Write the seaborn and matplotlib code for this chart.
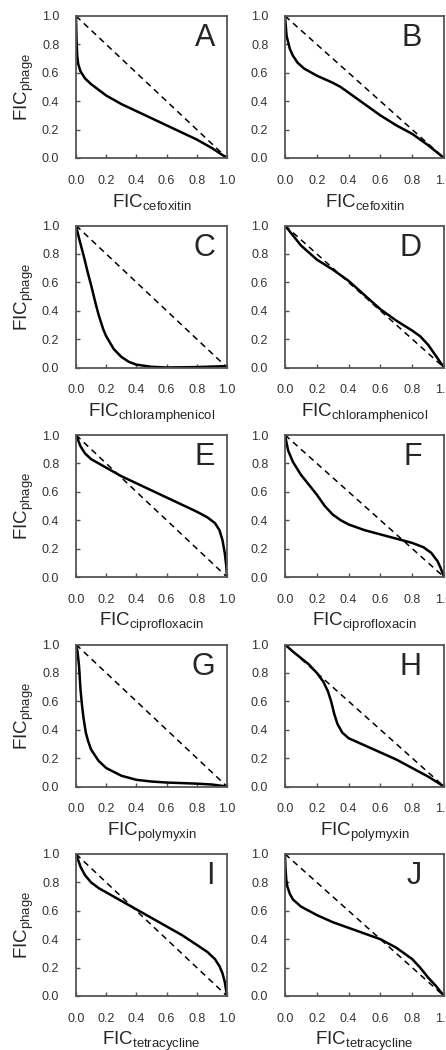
import numpy as np
import pandas as pd
import matplotlib
matplotlib.use("Agg")
import matplotlib.pyplot as plt
import seaborn as sns

# isobolograms: FIC of phage vs FIC of antibiotic
letters = ["A", "B", "C", "D", "E", "F", "G", "H", "I", "J"]
drugs = ["cefoxitin", "cefoxitin", "chloramphenicol", "chloramphenicol",
         "ciprofloxacin", "ciprofloxacin", "polymyxin", "polymyxin",
         "tetracycline", "tetracycline"]

x_A = [0.0, 0.003, 0.008, 0.015, 0.03, 0.06, 0.1, 0.15, 0.2, 0.3, 0.4, 0.5, 0.6, 0.7, 0.8, 0.9, 1.0]
y_A = [1.0, 0.85, 0.72, 0.66, 0.61, 0.56, 0.52, 0.48, 0.44, 0.38, 0.33, 0.28, 0.23, 0.18, 0.13, 0.07, 0.0]

x_B = [0.0, 0.01, 0.03, 0.05, 0.08, 0.12, 0.2, 0.3, 0.35, 0.4, 0.5, 0.6, 0.7, 0.8, 0.9, 1.0]
y_B = [1.0, 0.86, 0.77, 0.72, 0.67, 0.63, 0.58, 0.53, 0.50, 0.46, 0.38, 0.30, 0.23, 0.17, 0.09, 0.0]

x_C = [0.0, 0.02, 0.05, 0.08, 0.1, 0.13, 0.15, 0.18, 0.2, 0.25, 0.3, 0.35, 0.4, 0.5, 0.6, 0.8, 1.0]
y_C = [1.0, 0.91, 0.79, 0.66, 0.58, 0.45, 0.37, 0.27, 0.22, 0.13, 0.075, 0.04, 0.02, 0.005, 0.0, 0.003, 0.01]

x_D = [0.0, 0.05, 0.1, 0.2, 0.3, 0.4, 0.5, 0.6, 0.7, 0.8, 0.85, 0.9, 0.95, 1.0]
y_D = [1.0, 0.93, 0.86, 0.76, 0.69, 0.61, 0.51, 0.41, 0.33, 0.26, 0.22, 0.16, 0.08, 0.0]

x_E = [0.0, 0.03, 0.06, 0.1, 0.15, 0.2, 0.3, 0.4, 0.5, 0.6, 0.7, 0.8, 0.87, 0.92, 0.95, 0.97, 0.985, 0.995, 1.0]
y_E = [1.0, 0.92, 0.87, 0.83, 0.80, 0.77, 0.71, 0.66, 0.61, 0.56, 0.51, 0.46, 0.42, 0.38, 0.33, 0.26, 0.17, 0.08, 0.0]

x_F = [0.0, 0.02, 0.05, 0.1, 0.15, 0.2, 0.25, 0.3, 0.35, 0.4, 0.5, 0.6, 0.7, 0.8, 0.87, 0.92, 0.96, 0.98, 1.0]
y_F = [1.0, 0.89, 0.81, 0.72, 0.65, 0.58, 0.50, 0.44, 0.40, 0.37, 0.33, 0.30, 0.27, 0.24, 0.21, 0.17, 0.11, 0.06, 0.0]

x_G = [0.0, 0.01, 0.02, 0.03, 0.04, 0.05, 0.065, 0.08, 0.1, 0.15, 0.2, 0.3, 0.4, 0.5, 0.6, 0.8, 0.9, 1.0]
y_G = [1.0, 0.95, 0.85, 0.68, 0.57, 0.48, 0.38, 0.32, 0.26, 0.18, 0.13, 0.076, 0.047, 0.035, 0.028, 0.02, 0.014, 0.0]

x_H = [0.0, 0.05, 0.1, 0.15, 0.2, 0.24, 0.27, 0.29, 0.31, 0.33, 0.36, 0.4, 0.5, 0.6, 0.7, 0.8, 0.9, 1.0]
y_H = [1.0, 0.95, 0.905, 0.86, 0.80, 0.74, 0.67, 0.60, 0.51, 0.44, 0.38, 0.34, 0.29, 0.24, 0.19, 0.13, 0.07, 0.0]

x_I = [0.0, 0.03, 0.06, 0.1, 0.15, 0.2, 0.3, 0.4, 0.5, 0.6, 0.7, 0.8, 0.87, 0.92, 0.95, 0.97, 0.985, 1.0]
y_I = [1.0, 0.91, 0.85, 0.80, 0.76, 0.73, 0.67, 0.61, 0.55, 0.49, 0.43, 0.36, 0.31, 0.26, 0.21, 0.16, 0.10, 0.0]

x_J = [0.0, 0.003, 0.008, 0.015, 0.03, 0.05, 0.1, 0.2, 0.3, 0.4, 0.5, 0.6, 0.7, 0.8, 0.85, 0.9, 0.95, 1.0]
y_J = [1.0, 0.9, 0.82, 0.77, 0.72, 0.68, 0.63, 0.57, 0.52, 0.48, 0.44, 0.40, 0.34, 0.26, 0.20, 0.13, 0.07, 0.0]

curves = [(x_A, y_A), (x_B, y_B), (x_C, y_C), (x_D, y_D), (x_E, y_E),
          (x_F, y_F), (x_G, y_G), (x_H, y_H), (x_I, y_I), (x_J, y_J)]

additivity_x = [0.0, 1.0]
additivity_y = [1.0, 0.0]
ticks = [0.0, 0.2, 0.4, 0.6, 0.8, 1.0]

sns.set_style("ticks")
plt.rcParams["font.family"] = ["Liberation Sans", "DejaVu Sans"]
plt.rcParams["mathtext.default"] = "regular"

W, H = 446, 1050
fig = plt.figure(figsize=(W / 100, H / 100), dpi=100)

col_left = [76, 285]
col_width = [151, 159]
letter_x = [0.92, 0.86]

for i, (letter, drug, (xs, ys)) in enumerate(zip(letters, drugs, curves)):
    row, col = i // 2, i % 2
    top = 16 + 209.5 * row
    ax = fig.add_axes([col_left[col] / W, 1 - (top + 142) / H, col_width[col] / W, 142 / H])

    df = pd.DataFrame({"x": xs, "y": ys})
    sns.lineplot(data=df, x="x", y="y", ax=ax, sort=False, color="black",
                 linewidth=1.8, estimator=None)
    diag = pd.DataFrame({"x": additivity_x, "y": additivity_y})
    sns.lineplot(data=diag, x="x", y="y", ax=ax, sort=False, color="black",
                 linewidth=1.1, estimator=None)
    ax.lines[-1].set_dashes([4, 3])

    ax.set_xlim(0, 1)
    ax.set_ylim(0, 1)
    ax.set_xticks(ticks)
    ax.set_yticks(ticks)
    ax.set_xticklabels([f"{t:.1f}" for t in ticks])
    ax.set_yticklabels([f"{t:.1f}" for t in ticks])
    ax.tick_params(direction="in", length=3, width=1, color="#555555",
                   labelsize=9, labelcolor="#333333")
    ax.tick_params(axis="x", pad=12)
    ax.tick_params(axis="y", pad=12)
    for s in ax.spines.values():
        s.set_visible(True)
        s.set_color("#555555")
        s.set_linewidth(1.3)

    ax.set_xlabel(f"FIC$_{{{drug}}}$", fontsize=13.5, labelpad=4)
    if col == 0:
        ax.set_ylabel("FIC$_{phage}$", fontsize=13.5, labelpad=4)
    else:
        ax.set_ylabel("")

    ax.text(letter_x[col], 0.95, letter, transform=ax.transAxes, fontsize=22,
            ha="right", va="top")

fig.savefig("out.png", dpi=100)
